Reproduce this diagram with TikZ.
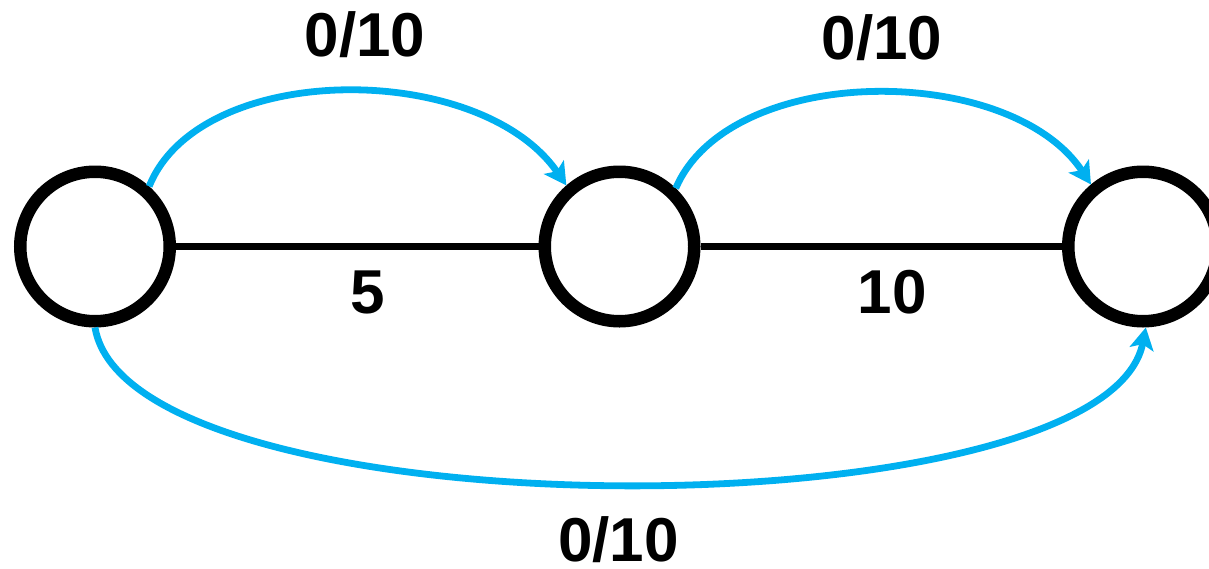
\documentclass[tikz,border=0pt]{standalone}
\usepackage{fontspec}
\setmainfont{Liberation Sans}
\usetikzlibrary{arrows.meta}
\definecolor{flowblue}{HTML}{00B0F0}
\begin{document}
\begin{tikzpicture}[x=1pt,y=-1pt,
  vertex/.style={circle,draw=black,line width=12.5pt,inner sep=0pt,minimum size=149.5pt},
  edgeline/.style={draw=black,line width=7pt},
  flow/.style={draw=flowblue,line width=6.8pt,-{Stealth[length=22pt,width=24pt,inset=5pt]}},
  lbl/.style={font=\fontsize{62}{64}\selectfont\bfseries,inner sep=0pt,anchor=base}]
\clip (0,0) rectangle (1209,568);
\node[vertex] (L) at (95,246.5) {};
\node[vertex] (M) at (619.5,246.5) {};
\node[vertex] (R) at (1143,246.5) {};
\draw[edgeline] (L.east) -- (M.west);
\draw[edgeline] (M.east) -- (R.west);
\draw[flow] (L.48) .. controls (200,60) and (480,60) .. (M.131);
\draw[flow] (M.46) .. controls (730,62) and (1010,62) .. (R.130);
\draw[flow] (L.-90) .. controls (130,536) and (1105,536) .. (R.-88);
\node[lbl] (t1) at (365,56.5) {0/10};
\node[lbl] (t2) at (882,59) {0/10};
\node[lbl] (b1) at (368,313) {5};
\node[lbl] (b2) at (892,313) {10};
\node[lbl] (b3) at (618.5,561.5) {0/10};
\end{tikzpicture}
\end{document}
